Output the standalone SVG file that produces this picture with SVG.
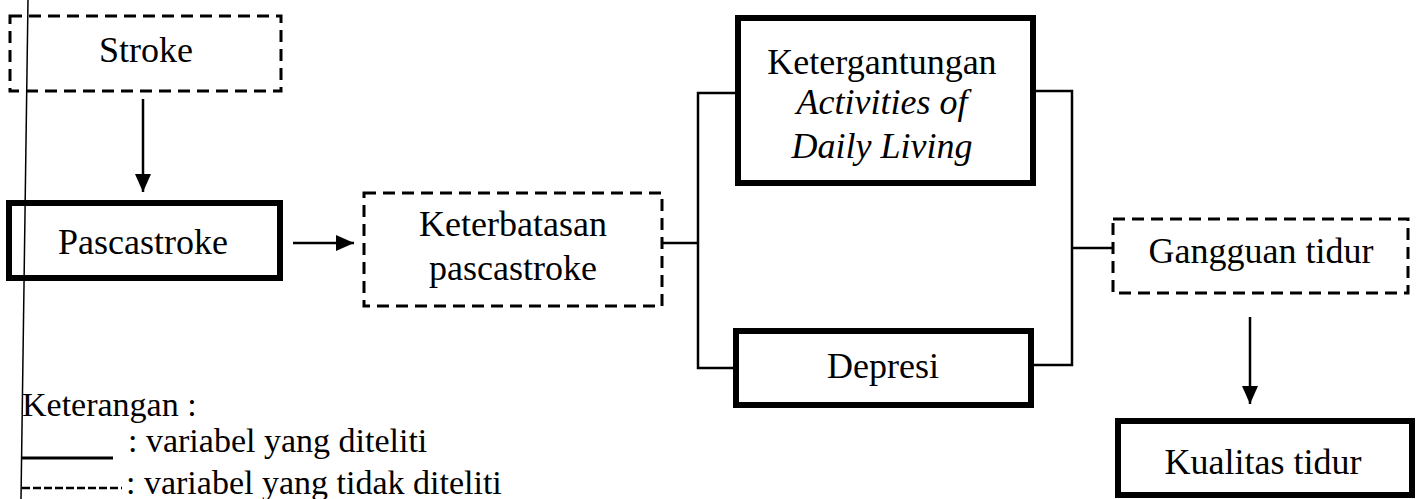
<svg xmlns="http://www.w3.org/2000/svg" width="1419" height="499" viewBox="0 0 1419 499">
<style>
  .t { font-family: "Liberation Serif", "Times New Roman", serif; font-size: 36px; fill: #000; }
  .it { font-style: italic; }
  .solid { fill: #fff; stroke: #000; stroke-width: 6; }
  .dash { fill: #fff; stroke: #000; stroke-width: 3; stroke-dasharray: 12 7; }
  .conn { fill: none; stroke: #000; stroke-width: 2.5; }
</style>
<defs>
  <marker id="ah" markerWidth="18" markerHeight="16" refX="18" refY="8" orient="auto" markerUnits="userSpaceOnUse">
    <path d="M0,0 L18,8 L0,16 z" fill="#000"/>
  </marker>
</defs>
<rect width="1419" height="499" fill="#fff"/>

<g id="connectors">
  <line class="conn" x1="143" y1="99" x2="143" y2="192" marker-end="url(#ah)"/>
  <line class="conn" x1="293" y1="243" x2="354" y2="243" marker-end="url(#ah)"/>
  <polyline class="conn" points="662,243 698,243"/>
  <polyline class="conn" points="735,93 698,93 698,368 733,368"/>
  <polyline class="conn" points="1035,91 1072,91 1072,365 1033,365"/>
  <polyline class="conn" points="1072,248 1113,248"/>
  <line class="conn" x1="1250" y1="317" x2="1250" y2="404" marker-end="url(#ah)"/>
</g>

<g id="stroke">
  <rect class="dash" x="10" y="16" width="271" height="75"/>
  <text class="t" x="146" y="62" text-anchor="middle">Stroke</text>
</g>
<g id="pascastroke">
  <rect class="solid" x="9" y="203" width="271" height="75"/>
  <text class="t" x="143" y="254" text-anchor="middle">Pascastroke</text>
</g>
<g id="keterbatasan">
  <rect class="dash" x="364" y="193" width="298" height="113"/>
  <text class="t" x="513" y="236" text-anchor="middle">Keterbatasan</text>
  <text class="t" x="513" y="280" text-anchor="middle">pascastroke</text>
</g>
<g id="ketergantungan">
  <rect class="solid" x="738" y="18" width="295" height="165"/>
  <text class="t" x="882" y="74" text-anchor="middle">Ketergantungan</text>
  <text class="t it" x="882" y="114" text-anchor="middle">Activities of</text>
  <text class="t it" x="882" y="158" text-anchor="middle">Daily Living</text>
</g>
<g id="depresi">
  <rect class="solid" x="736" y="331" width="295" height="74"/>
  <text class="t" x="883" y="378" text-anchor="middle">Depresi</text>
</g>
<g id="gangguan">
  <rect class="dash" x="1113" y="219" width="295" height="74"/>
  <text class="t" x="1261" y="263" text-anchor="middle">Gangguan tidur</text>
</g>
<g id="kualitas">
  <rect class="solid" x="1118" y="421" width="294" height="74"/>
  <text class="t" x="1263" y="474" text-anchor="middle">Kualitas tidur</text>
</g>

<g id="legend">
  <text class="t" x="22" y="416" style="font-size:34px">Keterangan :</text>
  <line x1="22" y1="458" x2="113" y2="458" stroke="#000" stroke-width="3"/>
  <text class="t" x="128" y="452" style="font-size:34px">: variabel yang diteliti</text>
  <line x1="22" y1="488" x2="122" y2="488" stroke="#000" stroke-width="2.5" stroke-dasharray="8 3"/>
  <text class="t" x="126" y="494" style="font-size:34px">: variabel yang tidak diteliti</text>
</g>

<line x1="28" y1="0" x2="21" y2="499" stroke="#000" stroke-width="1.5"/>
</svg>
